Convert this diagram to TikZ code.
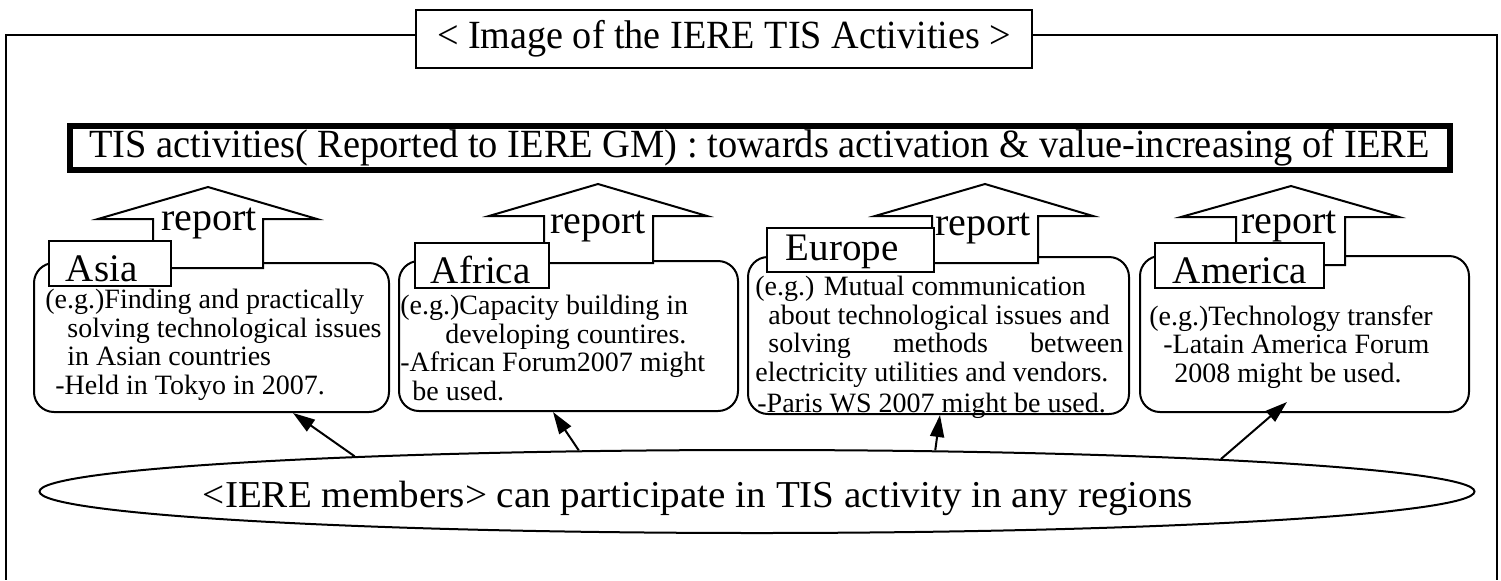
\documentclass[tikz,border=0pt]{standalone}
\usepackage{fontspec}
\setmainfont{Liberation Serif}
\usetikzlibrary{shapes.geometric,arrows.meta,calc}
\begin{document}
\begin{tikzpicture}[x=0.5pt,y=-0.5pt,line join=miter,
  frameline/.style={line width=1pt},
  rbox/.style={draw,line width=1pt,rounded corners=10pt,fill=white,inner sep=0pt,anchor=north west},
  lbl/.style={draw,line width=0.9pt,fill=white,inner ysep=0pt,minimum height=22.5pt,text height=18.5pt,text depth=0pt,align=left,anchor=north west,font=\fontsize{19.5}{19.5}\selectfont},
  blk/.style={draw,line width=1pt,fill=white},
  rep/.style={font=\fontsize{20}{20}\selectfont,inner sep=0pt,anchor=base},
  body/.style={anchor=north west,inner sep=0pt,align=left,font=\fontsize{14}{14.25}\selectfont},
  conn/.style={line width=1pt,-{Triangle[length=11pt,width=7pt]}}]

\useasboundingbox (0,0) rectangle (1501,580);

% title and frame
\node[draw,line width=1pt,minimum width=308pt,minimum height=29pt,inner sep=0pt,fill=white] (title) at (724,39)
  {\fontsize{20}{20}\selectfont\resizebox{287pt}{\height}{< Image of the IERE TIS Activities >}};
\draw[frameline] ([yshift=2pt]title.west) -| (6,580);
\draw[frameline] ([yshift=2pt]title.east) -| (1497,580);

% TIS box
\node[draw,line width=3pt,minimum width=690pt,minimum height=22pt,inner sep=0pt] (tis) at (759.5,148)
  {\fontsize{20}{20}\selectfont\resizebox{670pt}{\height}{TIS activities( Reported to IERE GM) : towards activation \& value-increasing of IERE}};

% rounded region boxes
\node[rbox,minimum width=177.5pt,minimum height=74.5pt] (asia) at (33,262) {};
\node[rbox,minimum width=169.5pt,minimum height=75pt] (africa) at (398,260) {};
\node[rbox,minimum width=190.5pt,minimum height=78.5pt] (europe) at (747,256) {};
\node[rbox,minimum width=164.5pt,minimum height=78pt] (america) at (1139,255) {};

% report block arrows
\draw[blk] (153,268) -- (153,219) -- (98,219) -- (208,187) -- (317,219) -- (263,219) -- (263,268) -- cycle;
\draw[blk] (544,263) -- (544,216) -- (489,216) -- (598,184) -- (707,216) -- (653,216) -- (653,263) -- cycle;
\draw[blk] (932,263) -- (932,216) -- (875,216) -- (985,184) -- (1093,216) -- (1038,216) -- (1038,263) -- cycle;
\draw[blk] (1236,265) -- (1236,217) -- (1181,217) -- (1291,186) -- (1399,217) -- (1345,217) -- (1345,265) -- cycle;
\node[rep] (rep1) at (209,230) {report};
\node[rep] (rep2) at (598,233) {report};
\node[rep] (rep3) at (983,235) {report};
\node[rep] (rep4) at (1289,233) {report};

% region labels
\node[lbl,text width=44pt,inner xsep=8.5pt] (lasia) at (48,240) {Asia};
\node[lbl,text width=51pt,inner xsep=8pt] (lafrica) at (414,242) {Africa};
\node[lbl,text width=64.5pt,inner xsep=9.5pt,minimum height=22pt,text height=11pt] (leurope) at (766,227) {Europe};
\node[lbl,text width=66.5pt,inner xsep=9pt] (lamerica) at (1154,242) {America};

% body texts
\node[body] (tasia) at (45,289) {(e.g.)Finding and practically\\
\hspace*{11pt}solving technological issues\\
\hspace*{11pt}in Asian countries\\
\hspace*{5pt}-Held in Tokyo in 2007.};
\node[body] (tafrica) at (400,295) {(e.g.)Capacity building in\\
\hspace*{22.5pt}developing countires.\\
-African Forum2007 might\\
\hspace*{6pt}be used.};
\node[body] (teurope) at (755,276) {(e.g.) Mutual communication\\
\hspace*{6.5pt}about technological issues and\\
\hspace*{6.5pt}\makebox[177.5pt][s]{solving methods between}\\
electricity utilities and vendors.\\[1.5pt]
\hspace*{1pt}-Paris WS 2007 might be used.};
\node[body] (tamerica) at (1149,305) {(e.g.)Technology transfer\\
\hspace*{7pt}-Latain America Forum\\
\hspace*{12.5pt}2008 might be used.};

% members ellipse
\node[draw,ellipse,line width=1pt,fill=white,minimum width=717.5pt,minimum height=41.5pt,inner sep=0pt] (ell) at (757,491.5) {};
\node[anchor=base,inner sep=0pt,font=\fontsize{19}{19}\selectfont] (elltext) at (698,507)
  {\resizebox{495pt}{\height}{<IERE members> can participate in TIS activity in any regions}};

% connectors
\draw[conn] (ell.175.1) -- ([xshift=130pt]asia.south west);
\draw[conn] (ell.167.6) -- ([xshift=77.5pt]africa.south west);
\draw[conn] (ell.13.8) -- ([xshift=96.5pt]europe.south west);
\draw[conn] (ell.4.0) -- ([xshift=74pt,yshift=5.5pt]america.south west);
\end{tikzpicture}
\end{document}
